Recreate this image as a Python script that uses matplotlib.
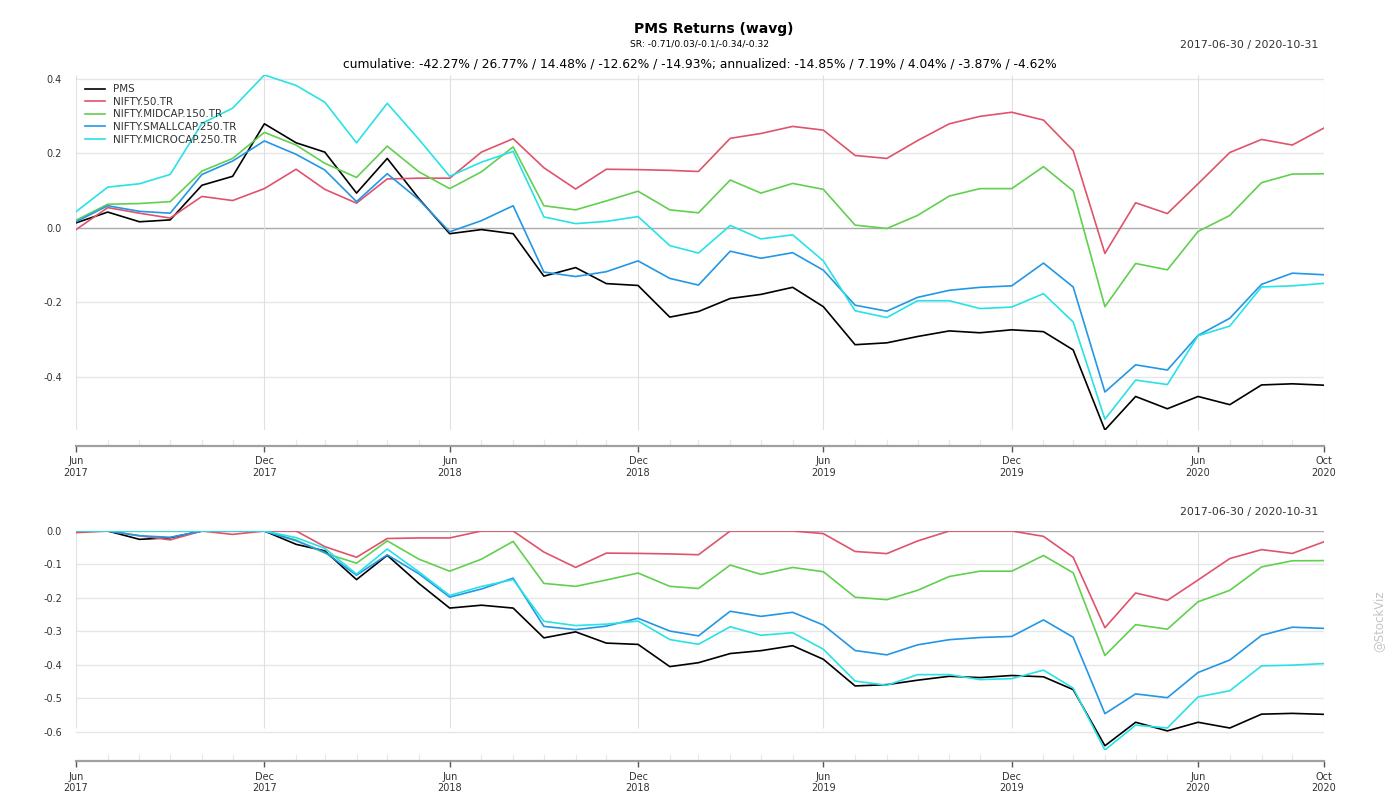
import matplotlib
matplotlib.use("Agg")
import matplotlib.pyplot as plt
import numpy as np
import pandas as pd

plt.rcParams['font.family'] = ['DejaVu Sans']

# month-end cumulative returns
dates = pd.date_range('2017-06-30', '2020-10-31', freq='ME')
names = ['PMS', 'NIFTY.50.TR', 'NIFTY.MIDCAP.150.TR', 'NIFTY.SMALLCAP.250.TR', 'NIFTY.MICROCAP.250.TR']
colors = ['#000000', '#DF536B', '#61D04F', '#2297E6', '#28E2E5']

pms = [0.013, 0.042, 0.016, 0.021, 0.114, 0.138, 0.279, 0.228, 0.203, 0.093, 0.186, 0.078, -0.016, -0.005,
       -0.016, -0.130, -0.107, -0.150, -0.155, -0.240, -0.225, -0.190, -0.179, -0.160, -0.212, -0.314, -0.309,
       -0.292, -0.277, -0.282, -0.274, -0.279, -0.328, -0.543, -0.453, -0.486, -0.453, -0.475, -0.422, -0.419, -0.4227]
nifty50 = [-0.005, 0.054, 0.039, 0.026, 0.084, 0.073, 0.105, 0.157, 0.103, 0.066, 0.131, 0.133, 0.133, 0.203,
           0.239, 0.161, 0.104, 0.157, 0.156, 0.154, 0.151, 0.240, 0.253, 0.272, 0.262, 0.194, 0.186, 0.234,
           0.279, 0.299, 0.310, 0.289, 0.207, -0.069, 0.067, 0.038, 0.118, 0.202, 0.237, 0.222, 0.2677]
midcap = [0.020, 0.063, 0.065, 0.070, 0.152, 0.186, 0.256, 0.222, 0.173, 0.135, 0.219, 0.150, 0.105, 0.150,
          0.217, 0.059, 0.048, 0.072, 0.098, 0.048, 0.040, 0.128, 0.093, 0.119, 0.103, 0.007, -0.002, 0.033,
          0.085, 0.105, 0.105, 0.164, 0.099, -0.212, -0.096, -0.113, -0.010, 0.033, 0.121, 0.144, 0.1448]
smallcap = [0.016, 0.059, 0.044, 0.039, 0.143, 0.179, 0.233, 0.197, 0.155, 0.070, 0.145, 0.075, -0.011, 0.019,
            0.059, -0.119, -0.131, -0.118, -0.089, -0.136, -0.154, -0.063, -0.082, -0.067, -0.114, -0.208, -0.224,
            -0.187, -0.168, -0.160, -0.156, -0.095, -0.159, -0.441, -0.368, -0.382, -0.289, -0.243, -0.152, -0.122, -0.1262]
microcap = [0.043, 0.109, 0.118, 0.143, 0.280, 0.321, 0.410, 0.382, 0.337, 0.228, 0.334, 0.237, 0.138, 0.176,
            0.205, 0.029, 0.011, 0.017, 0.030, -0.048, -0.068, 0.006, -0.030, -0.019, -0.089, -0.223, -0.241,
            -0.196, -0.196, -0.217, -0.213, -0.177, -0.253, -0.514, -0.409, -0.421, -0.290, -0.264, -0.159, -0.156, -0.1493]

cum = pd.DataFrame(dict(zip(names, [pms, nifty50, midcap, smallcap, microcap])), index=dates)

# drawdowns from the same series (peak includes the starting value of 1)
wealth = 1 + cum
peak = np.maximum(wealth.cummax(), 1.0)
dd = wealth / peak - 1

major_idx = [0, 6, 12, 18, 24, 30, 36, 40]

fig = plt.figure(figsize=(14, 8), dpi=100)
ax1 = fig.add_axes([76/1400, 1-430/800, 1248/1400, 355/800])
ax2 = fig.add_axes([76/1400, 1-750/800, 1248/1400, 219/800])


def style(ax, yticks, ylo, yhi, grid_lo, offset):
    ax.set_xlim(dates[0], dates[-1])
    ax.set_ylim(ylo, yhi)
    for s in ['top', 'right', 'left']:
        ax.spines[s].set_visible(False)
    ax.spines['bottom'].set_position(('outward', offset))
    ax.spines['bottom'].set_color('#a0a0a0')
    ax.spines['bottom'].set_linewidth(1.6)
    ax.set_yticks(yticks)
    ax.set_yticklabels(['%.1f' % t for t in yticks])
    ax.tick_params(axis='y', length=0, labelsize=7, labelcolor='#333333', pad=10)
    ax.set_xticks(dates[major_idx])
    ax.set_xticklabels([d.strftime('%b\n%Y') for d in dates[major_idx]], linespacing=1.15)
    ax.set_xticks(dates, minor=True)
    ax.tick_params(axis='x', which='major', length=4.5, width=1, color='#555555',
                   labelsize=7, labelcolor='#333333', pad=3)
    ax.tick_params(axis='x', which='minor', direction='in', length=5, width=0.8, color='#e8e8e8')
    for t in yticks:
        ax.axhline(t, color='#aaaaaa' if t == 0 else '#e6e6e6', lw=1, zorder=0)
    ax.vlines(dates[major_idx], grid_lo, yhi, color='#e0e0e0', lw=0.8, zorder=0)


for n, c in zip(names, colors):
    ax1.plot(cum.index, cum[n], color=c, lw=1.2, label=n)
    ax2.plot(dd.index, dd[n], color=c, lw=1.2)

style(ax1, [0.4, 0.2, 0.0, -0.2, -0.4], cum.min().min(), cum.max().max(), cum.min().min(), 11.5)
style(ax2, [0.0, -0.1, -0.2, -0.3, -0.4, -0.5, -0.6], dd.min().min(), 0.0, -0.59, 8)

leg = fig.legend(loc='upper left', bbox_to_anchor=(80/1400, 1-79/800), frameon=False,
                 fontsize=7.5, handlelength=1.9, handletextpad=0.8, labelspacing=0.25, borderpad=0)
for t in leg.get_texts():
    t.set_color('#333333')

fig.text(714/1400, 1-29/800, 'PMS Returns (wavg)', ha='center', va='center', fontsize=10, fontweight='bold')
fig.text(0.5, 1-44/800, 'SR: -0.71/0.03/-0.1/-0.34/-0.32', ha='center', va='center', fontsize=6.6)
fig.text(1318/1400, 1-45/800, '2017-06-30 / 2020-10-31', ha='right', va='center', fontsize=7.9, color='#333333')
fig.text(0.5, 1-64/800, 'cumulative: -42.27% / 26.77% / 14.48% / -12.62% / -14.93%; '
         'annualized: -14.85% / 7.19% / 4.04% / -3.87% / -4.62%', ha='center', va='center', fontsize=8.8)
fig.text(1318/1400, 1-512/800, '2017-06-30 / 2020-10-31', ha='right', va='center', fontsize=7.9, color='#333333')
fig.text(1379/1400, 1-621/800, '@StockViz', rotation=90, ha='center', va='center', fontsize=8.5, color='#c4c4c4')

fig.savefig('out.png', dpi=100)
